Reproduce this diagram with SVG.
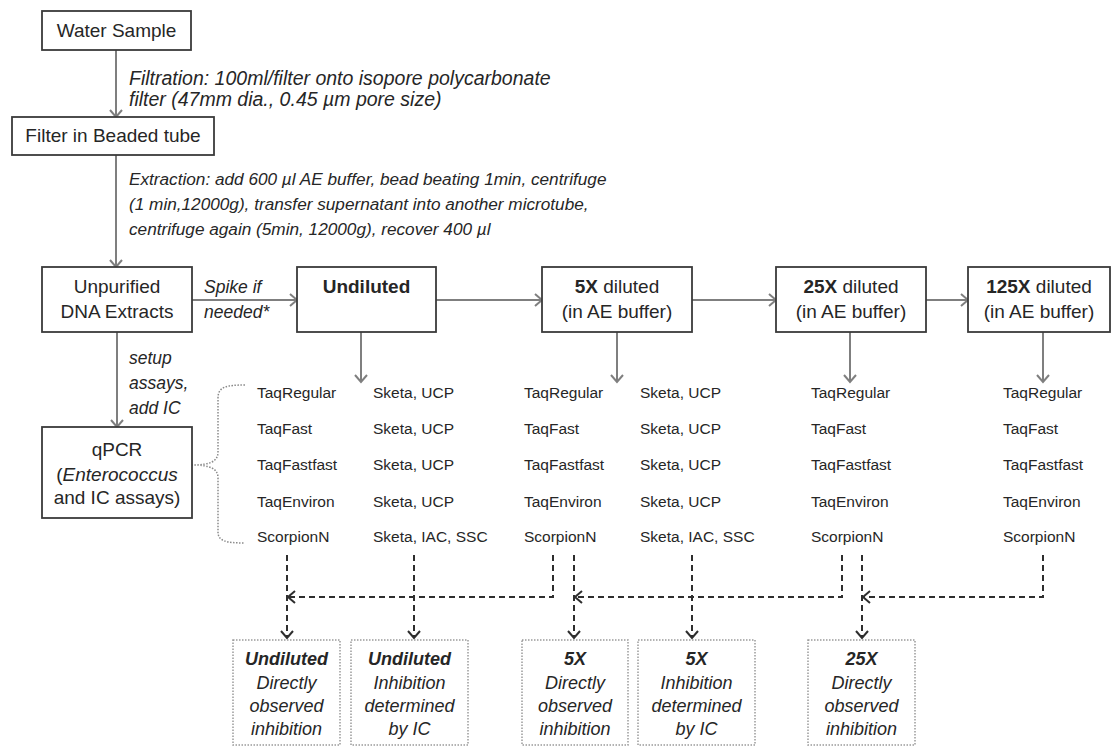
<svg xmlns="http://www.w3.org/2000/svg" width="1112" height="747" viewBox="0 0 1112 747">
<style>
text{font-family:"Liberation Sans",Arial,sans-serif;fill:#262626}
.bx{fill:#fff;stroke:#3a3a3a;stroke-width:1.8}
.t{font-size:19px;text-anchor:middle}
.it{font-size:17.5px;font-style:italic}
.tb{font-size:15.5px}
.bt{font-size:18px;font-style:italic;text-anchor:middle}
.ob{fill:#fff;stroke:#9a9a9a;stroke-width:1.5;stroke-dasharray:1.5 1.5}
.sa{fill:none;stroke:#7f7f7f;stroke-width:2;marker-end:url(#ah)}
.da{fill:none;stroke:#2e2e2e;stroke-width:2;stroke-dasharray:6 4;marker-end:url(#dh)}
</style>
<defs>
<marker id="ah" markerUnits="userSpaceOnUse" markerWidth="16" markerHeight="16" refX="8" refY="7" orient="auto"><path d="M1,1 L8,7 L1,13" fill="none" stroke="#7f7f7f" stroke-width="2"/></marker>
<marker id="dh" markerUnits="userSpaceOnUse" markerWidth="16" markerHeight="16" refX="8" refY="7" orient="auto"><path d="M1,1 L8,7 L1,13" fill="none" stroke="#2e2e2e" stroke-width="2" stroke-dasharray="none"/></marker>
</defs>
<g id="connectors">
<path class="sa" d="M116,50 V117"/>
<path class="sa" d="M116,155 V267"/>
<path class="sa" d="M192,300 H297"/>
<path class="sa" d="M436,300 H542"/>
<path class="sa" d="M692,300 H776"/>
<path class="sa" d="M926,300 H968"/>
<path class="sa" d="M117,332 V427"/>
<path class="sa" d="M361,332 V382"/>
<path class="sa" d="M617,332 V382"/>
<path class="sa" d="M850,332 V382"/>
<path class="sa" d="M1043,332 V382"/>
<path d="M245,385 C226,385 218,387 218,398 L218,452 C218,461 211,465 192,465 C211,465 218,469 218,478 L218,532 C218,541 226,543 245,543" fill="none" stroke="#8a8a8a" stroke-width="1.5" stroke-dasharray="1.5 1.5"/>
<path class="da" d="M553,555 V597 H288"/>
<path class="da" d="M287,555 V638"/>
<path class="da" d="M414,555 V638"/>
<path class="da" d="M842,555 V597 H575"/>
<path class="da" d="M574,555 V638"/>
<path class="da" d="M692,555 V638"/>
<path class="da" d="M1043,555 V597 H863"/>
<path class="da" d="M862,555 V638"/>
</g>
<g id="annotations">
<text class="it" x="129" y="85" font-size="19.5px" style="font-size:19.5px">Filtration: 100ml/filter onto isopore polycarbonate</text>
<text class="it" x="129" y="106" style="font-size:19.5px">filter (47mm dia., 0.45 µm pore size)</text>
<text class="it" x="129" y="185" style="font-size:17.2px">Extraction: add 600 µl AE buffer, bead beating 1min, centrifuge</text>
<text class="it" x="129" y="210" style="font-size:17.2px">(1 min,12000g), transfer supernatant into another microtube,</text>
<text class="it" x="129" y="235" style="font-size:17.2px">centrifuge again (5min, 12000g), recover 400 µl</text>
<text class="it" x="204" y="293">Spike if</text>
<text class="it" x="204" y="318">needed*</text>
<text class="it" x="129" y="364">setup</text>
<text class="it" x="129" y="389">assays,</text>
<text class="it" x="129" y="414">add IC</text>
</g>
<g id="water-sample"><rect class="bx" x="42" y="11" width="149" height="39"/><text class="t" x="116.5" y="37">Water Sample</text></g>
<g id="filter-tube"><rect class="bx" x="12" y="117" width="202" height="38"/><text class="t" x="113" y="142">Filter in Beaded tube</text></g>
<g id="unpurified"><rect class="bx" x="42" y="267" width="150" height="65"/><text class="t" x="117" y="293">Unpurified</text><text class="t" x="117" y="318">DNA Extracts</text></g>
<g id="undiluted"><rect class="bx" x="297" y="267" width="139" height="65"/><text class="t" x="366.5" y="293" font-weight="bold">Undiluted</text></g>
<g id="dil5"><rect class="bx" x="542" y="267" width="150" height="65"/><text class="t" x="617" y="293"><tspan font-weight="bold">5X</tspan> diluted</text><text class="t" x="617" y="318">(in AE buffer)</text></g>
<g id="dil25"><rect class="bx" x="776" y="267" width="150" height="65"/><text class="t" x="851" y="293"><tspan font-weight="bold">25X</tspan> diluted</text><text class="t" x="851" y="318">(in AE buffer)</text></g>
<g id="dil125"><rect class="bx" x="968" y="267" width="142" height="65"/><text class="t" x="1039" y="293"><tspan font-weight="bold">125X</tspan> diluted</text><text class="t" x="1039" y="318">(in AE buffer)</text></g>
<g id="qpcr"><rect class="bx" x="42" y="427" width="150" height="91"/><text class="t" x="117" y="456">qPCR</text><text class="t" x="117" y="481">(<tspan font-style="italic">Enterococcus</tspan></text><text class="t" x="117" y="504">and IC assays)</text></g>
<g id="assays">
<text class="tb" x="257" y="398">TaqRegular</text><text class="tb" x="373" y="398">Sketa, UCP</text>
<text class="tb" x="257" y="434">TaqFast</text><text class="tb" x="373" y="434">Sketa, UCP</text>
<text class="tb" x="257" y="470">TaqFastfast</text><text class="tb" x="373" y="470">Sketa, UCP</text>
<text class="tb" x="257" y="507">TaqEnviron</text><text class="tb" x="373" y="507">Sketa, UCP</text>
<text class="tb" x="257" y="542">ScorpionN</text><text class="tb" x="373" y="542">Sketa, IAC, SSC</text>
<text class="tb" x="524" y="398">TaqRegular</text><text class="tb" x="640" y="398">Sketa, UCP</text>
<text class="tb" x="524" y="434">TaqFast</text><text class="tb" x="640" y="434">Sketa, UCP</text>
<text class="tb" x="524" y="470">TaqFastfast</text><text class="tb" x="640" y="470">Sketa, UCP</text>
<text class="tb" x="524" y="507">TaqEnviron</text><text class="tb" x="640" y="507">Sketa, UCP</text>
<text class="tb" x="524" y="542">ScorpionN</text><text class="tb" x="640" y="542">Sketa, IAC, SSC</text>
<text class="tb" x="811" y="398">TaqRegular</text>
<text class="tb" x="811" y="434">TaqFast</text>
<text class="tb" x="811" y="470">TaqFastfast</text>
<text class="tb" x="811" y="507">TaqEnviron</text>
<text class="tb" x="811" y="542">ScorpionN</text>
<text class="tb" x="1003" y="398">TaqRegular</text>
<text class="tb" x="1003" y="434">TaqFast</text>
<text class="tb" x="1003" y="470">TaqFastfast</text>
<text class="tb" x="1003" y="507">TaqEnviron</text>
<text class="tb" x="1003" y="542">ScorpionN</text>
</g>
<g id="res-undil-direct"><rect class="ob" x="233" y="640" width="107" height="105"/><text class="bt" x="286.5" y="665" font-weight="bold">Undiluted</text><text class="bt" x="286.5" y="689">Directly</text><text class="bt" x="286.5" y="712">observed</text><text class="bt" x="286.5" y="735">inhibition</text></g>
<g id="res-undil-ic"><rect class="ob" x="351" y="640" width="117" height="105"/><text class="bt" x="409.5" y="665" font-weight="bold">Undiluted</text><text class="bt" x="409.5" y="689">Inhibition</text><text class="bt" x="409.5" y="712">determined</text><text class="bt" x="409.5" y="735">by IC</text></g>
<g id="res-5x-direct"><rect class="ob" x="522" y="640" width="106" height="105"/><text class="bt" x="575" y="665" font-weight="bold">5X</text><text class="bt" x="575" y="689">Directly</text><text class="bt" x="575" y="712">observed</text><text class="bt" x="575" y="735">inhibition</text></g>
<g id="res-5x-ic"><rect class="ob" x="638" y="640" width="117" height="105"/><text class="bt" x="696.5" y="665" font-weight="bold">5X</text><text class="bt" x="696.5" y="689">Inhibition</text><text class="bt" x="696.5" y="712">determined</text><text class="bt" x="696.5" y="735">by IC</text></g>
<g id="res-25x-direct"><rect class="ob" x="808" y="640" width="107" height="105"/><text class="bt" x="861.5" y="665" font-weight="bold">25X</text><text class="bt" x="861.5" y="689">Directly</text><text class="bt" x="861.5" y="712">observed</text><text class="bt" x="861.5" y="735">inhibition</text></g>
</svg>
